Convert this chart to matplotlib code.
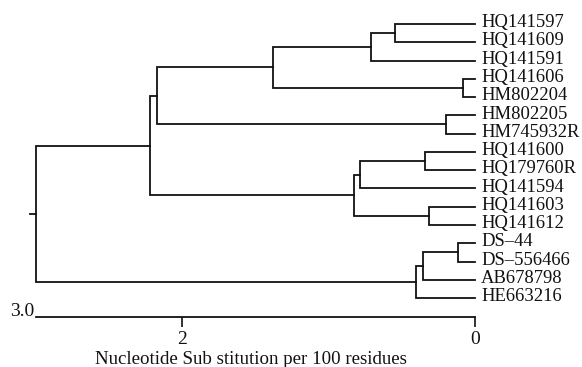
import matplotlib
matplotlib.use("Agg")
import matplotlib.pyplot as plt
import matplotlib.transforms as mtransforms

plt.rcParams['font.family'] = ['Liberation Serif', 'DejaVu Serif']

# Leaves (top to bottom)
leaves = ["HQ141597", "HQ141609", "HQ141591", "HQ141606", "HM802204",
          "HM802205", "HM745932R", "HQ141600", "HQ179760R", "HQ141594",
          "HQ141603", "HQ141612", "DS\u201344", "DS\u2013556466", "AB678798",
          "HE663216"]

# Internal nodes: children (leaf names or node names) and heights (distance)
node_names = ["A", "B", "C", "D", "E", "F", "G", "H", "I", "J", "K",
              "L", "M", "N", "Root"]
node_left = ["HQ141597", "A", "HQ141606", "B", "HM802205", "D",
             "HQ141600", "G", "HQ141603", "H", "F",
             "DS\u201344", "L", "M", "K"]
node_right = ["HQ141609", "HQ141591", "HM802204", "C", "HM745932R", "E",
              "HQ179760R", "HQ141594", "HQ141612", "I", "J",
              "DS\u2013556466", "AB678798", "HE663216", "N"]
node_heights = [0.548, 0.712, 0.082, 1.377, 0.199, 2.171,
                0.342, 0.788, 0.315, 0.829, 2.219,
                0.116, 0.356, 0.404, 3.0]

scale_ticks = [2, 0]
scale_ticklabels = ["2", "0"]
scale_max_label = "3.0"
xlabel = "Nucleotide Sub stitution per 100 residues"

W, H = 582, 367
fig = plt.figure(figsize=(W / 100, H / 100), dpi=100)
ax_left, ax_right = 36, 475
ax_bottom_px = 317
ax = fig.add_axes([ax_left / W, (H - ax_bottom_px) / H,
                   (ax_right - ax_left) / W, ax_bottom_px / H])

leaf_y0, leaf_dy = 24, 18.27
ax.set_xlim(3.0, 0)
ax.set_ylim((ax_bottom_px - leaf_y0) / leaf_dy, -leaf_y0 / leaf_dy)

pos = {}
for i, name in enumerate(leaves):
    pos[name] = (0.0, float(i))

lw = 1.3
col = "#111111"
for name, l, r, h in zip(node_names, node_left, node_right, node_heights):
    xl, yl = pos[l]
    xr, yr = pos[r]
    ax.plot([xl, h, h, xr], [yl, yl, yr, yr], color=col, lw=lw,
            solid_joinstyle="miter", clip_on=False)
    pos[name] = (h, (yl + yr) / 2)

# root stub
rx, ry = pos["Root"]
ax.plot([rx, rx + 0.04], [ry, ry], color=col, lw=lw, clip_on=False)

for i, name in enumerate(leaves):
    ax.annotate(name, xy=(0, i), xytext=(4.3, -2.3), textcoords="offset points",
                ha="left", va="baseline", fontsize=13.4, color="#111111")

for s in ["top", "right", "left"]:
    ax.spines[s].set_visible(False)
ax.spines["bottom"].set_linewidth(1.3)
ax.spines["bottom"].set_color(col)
ax.set_yticks([])
ax.set_xticks(scale_ticks)
ax.set_xticklabels(scale_ticklabels, fontsize=14)
ax.tick_params(axis="x", direction="out", length=7.5, width=1.2, pad=2.5,
               colors=col)

ax.text(3.0, (ax_bottom_px - leaf_y0) / leaf_dy, scale_max_label,
        ha="right", va="baseline", fontsize=14, color=col,
        transform=ax.transData + mtransforms.ScaledTranslation(-2 / 100, 1.5 / 100, fig.dpi_scale_trans))

fig.text(251 / W, 1 - 360 / H, xlabel, ha="center", va="center",
         fontsize=13.6, color=col)

fig.savefig("out.png", dpi=100, facecolor="white")
